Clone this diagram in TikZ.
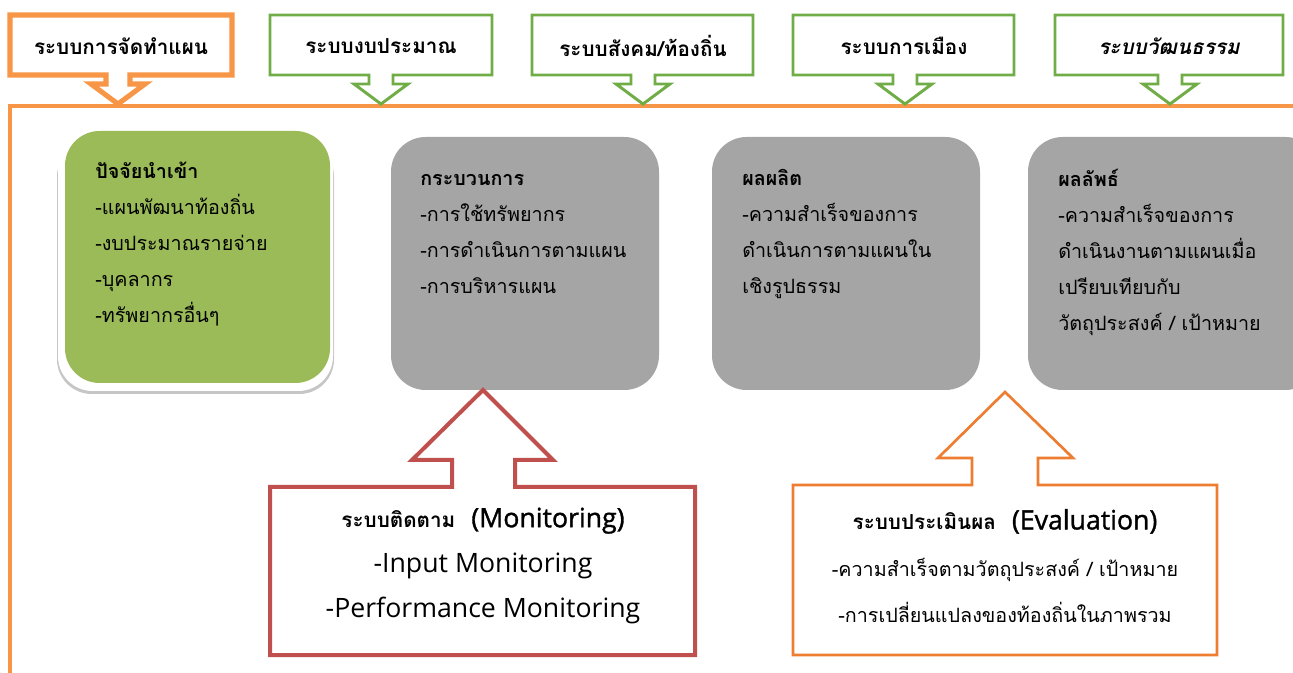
\documentclass[tikz,border=0pt]{standalone}
\usepackage{fontspec}
\setmainfont[Script=Thai]{Loma}
\newfontfamily\latinf{Open Sans}
\newfontfamily\latinsb[FakeBold=1.3]{Open Sans}
\definecolor{lineor}{HTML}{F79646}
\definecolor{boxgreen}{HTML}{70AD47}
\definecolor{fillgreen}{HTML}{9BBB59}
\definecolor{boxgray}{HTML}{A5A5A5}
\definecolor{monred}{HTML}{C0504D}
\definecolor{evalor}{HTML}{ED7D31}
\newcommand\topcall[4]{% x1, x2, tipx, style
  \draw[#4] (#1,15) -- (#2,15) -- (#2,75) -- (#3+12,75) -- (#3+12,84) -- (#3+27,84) -- (#3,104)
     -- (#3-27,84) -- (#3-12,84) -- (#3-12,75) -- (#1,75) -- cycle;}
\tikzset{
  topgreen/.style={draw=boxgreen, line width=2.2pt, fill=white, line join=miter},
  toporange/.style={draw=lineor, line width=3.8pt, fill=white, line join=miter},
  toptext/.style={font=\fontsize{15.5}{18}\selectfont\bfseries},
  bodytext/.style={anchor=west, align=left, inner sep=0pt, font=\fontsize{14.8}{27}\selectfont},
  rbox/.style={rounded corners=26pt},
}
\begin{document}
\begin{tikzpicture}[x=0.75pt,y=-0.75pt]
\useasboundingbox (0,0) rectangle (1293,673);
% main frame line
\draw[lineor, line width=3pt] (10,673) -- (10,106) -- (1293,106);
% top callouts
\topcall{10}{232}{118}{toporange}
\node[toptext] (t1) at (121,46) {ระบบการจัดทำแผน};
\topcall{270}{492}{381}{topgreen}
\node[toptext] (t2) at (381,46) {ระบบงบประมาณ};
\topcall{532}{753}{643}{topgreen}
\node[toptext] (t3) at (643,46) {ระบบสังคม/ท้องถิ่น};
\topcall{793}{1014}{905}{topgreen}
\node[toptext] (t4) at (904,46) {ระบบการเมือง};
\topcall{1055}{1283}{1170}{topgreen}
\node[toptext, font=\fontsize{15.5}{18}\selectfont\bfseries\itshape] (t5) at (1169,46) {ระบบวัฒนธรรม};
% input box with shadow
\fill[rbox, gray!45] (57,142) rectangle (334,394);
\fill[rbox, white] (58,136) rectangle (333,391);
\fill[rbox, fillgreen] (65,131) rectangle (330,383);
\node[bodytext] (inp) at (95,244) {\textbf{ปัจจัยนำเข้า}\\-แผนพัฒนาท้องถิ่น\\-งบประมาณรายจ่าย\\-บุคลากร\\-ทรัพยากรอื่นๆ};
% gray boxes
\fill[rbox, boxgray] (391,137) rectangle (659,390);
\node[bodytext] (proc) at (420,234) {\textbf{กระบวนการ}\\-การใช้ทรัพยากร\\-การดำเนินการตามแผน\\-การบริหารแผน};
\fill[rbox, boxgray] (712,137) rectangle (980,390);
\node[bodytext] (outp) at (742,234) {\textbf{ผลผลิต}\\-ความสำเร็จของการ\\ดำเนินการตามแผนใน\\เชิงรูปธรรม};
\fill[rbox, boxgray] (1028,137) rectangle (1320,390);
\node[bodytext] (outc) at (1058,252) {\textbf{ผลลัพธ์}\\-ความสำเร็จของการ\\ดำเนินงานตามแผนเมื่อ\\เปรียบเทียบกับ\\วัตถุประสงค์ / เป้าหมาย};
% monitoring callout
\draw[monred, line width=3pt, fill=white, line join=miter]
  (270,487) -- (452,487) -- (452,460) -- (412,460) -- (483,390) -- (553,460) -- (515,460)
  -- (515,487) -- (695,487) -- (695,655) -- (270,655) -- cycle;
\node[align=center, inner sep=0pt, font=\latinf\fontsize{20}{34}\selectfont] (mon) at (483,566)
  {{\rmfamily\fontsize{15.5}{18}\selectfont\bfseries ระบบติดตาม}\hspace{12pt}{\latinsb (Monitoring)}\\
   -Input Monitoring\\
   -Performance Monitoring};
% evaluation callout
\draw[evalor, line width=2pt, fill=white, line join=miter]
  (793,485) -- (972,485) -- (972,458) -- (938,458) -- (1005,392) -- (1073,458) -- (1038,458)
  -- (1038,485) -- (1217,485) -- (1217,655) -- (793,655) -- cycle;
\node[align=center, inner sep=0pt, font=\fontsize{14.8}{35}\selectfont] (ev) at (1005,566)
  {{\fontsize{15.5}{18}\selectfont\bfseries ระบบประเมินผล}\hspace{12pt}{\latinsb\fontsize{20}{20}\selectfont (Evaluation)}\\
   -ความสำเร็จตามวัตถุประสงค์ / เป้าหมาย\\
   -การเปลี่ยนแปลงของท้องถิ่นในภาพรวม};
\end{tikzpicture}
\end{document}
